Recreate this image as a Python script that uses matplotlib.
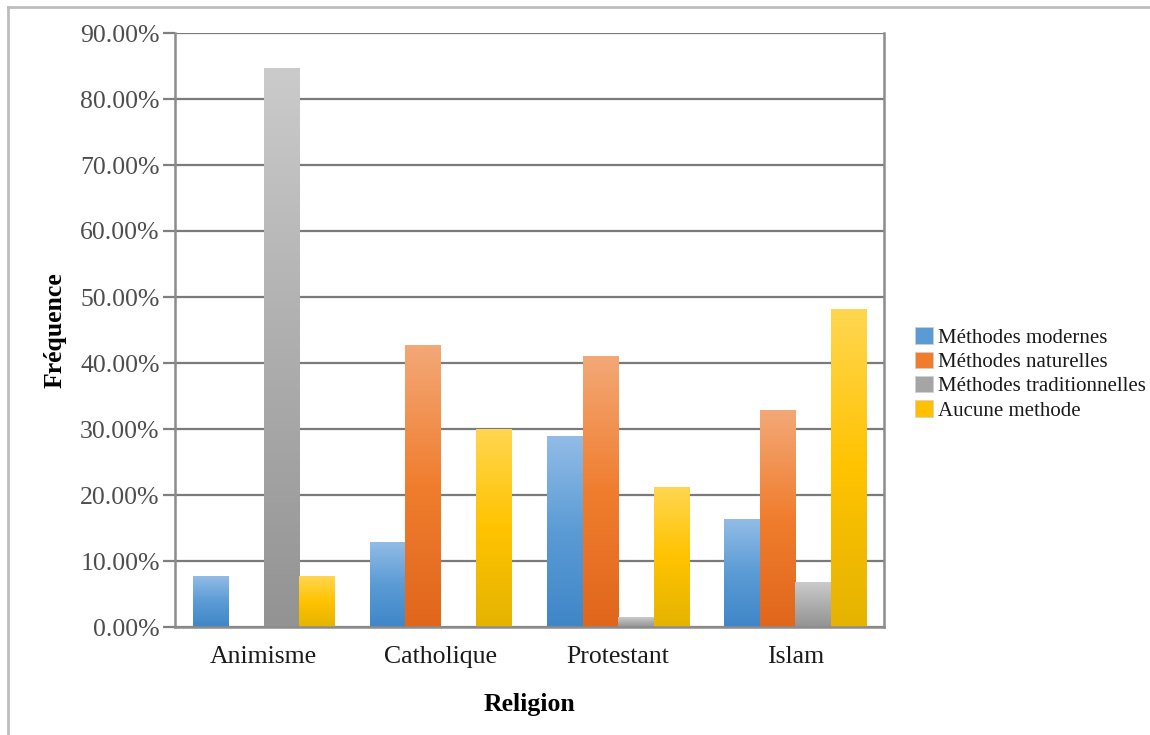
import matplotlib.pyplot as plt
import numpy as np
from matplotlib.colors import LinearSegmentedColormap
from matplotlib.lines import Line2D
from matplotlib.patches import Patch

religions = ["Animisme", "Catholique", "Protestant", "Islam"]
series = ["Méthodes modernes", "Méthodes naturelles",
          "Méthodes traditionnelles", "Aucune methode"]
modernes = [7.7, 12.8, 28.9, 16.3]
naturelles = [0.0, 42.6, 41.0, 32.8]
traditionnelles = [84.6, 0.0, 1.5, 6.7]
aucune = [7.7, 29.9, 21.2, 48.1]
yticks = [0, 10, 20, 30, 40, 50, 60, 70, 80, 90]

# (top, base, bottom) colours for the Excel style gradient fill
gradients = [
    ("#92BCE6", "#5B9BD5", "#3F86C8"),
    ("#F3A877", "#F07D2E", "#E0661C"),
    ("#CBCBCB", "#AEAEAE", "#939393"),
    ("#FFD650", "#FFC300", "#E5B300"),
]
solid = ["#5B9BD5", "#F07D2E", "#A5A5A5", "#FFC000"]

plt.rcParams['font.family'] = ['Liberation Serif', 'DejaVu Serif']

fig = plt.figure(figsize=(11.5, 7.35), dpi=100)
ax = fig.add_axes([175 / 1150, 1 - 627 / 735, (884 - 175) / 1150, (627 - 33) / 735])

values = [modernes, naturelles, traditionnelles, aucune]
x = np.arange(len(religions))
width = 0.2
grad = np.linspace(0, 1, 256).reshape(-1, 1)
for i, vals in enumerate(values):
    bars = ax.bar(x + (i - 1.5) * width, vals, width, color="none",
                  edgecolor="none", label=series[i])
    cmap = LinearSegmentedColormap.from_list("g%d" % i, gradients[i][::-1])
    for b in bars:
        h = b.get_height()
        if h <= 0:
            continue
        x0 = b.get_x()
        ax.imshow(grad, cmap=cmap, origin="lower", aspect="auto",
                  extent=[x0, x0 + b.get_width(), 0, h], zorder=3,
                  interpolation="bilinear")

ax.set_xlim(-0.5, len(religions) - 0.5)
ax.set_ylim(0, 90)
ax.set_yticks(yticks)
ax.set_yticklabels(["%.2f%%" % t for t in yticks])
ax.set_xticks(x)
ax.set_xticklabels(religions)

ax.yaxis.grid(True, color="#7A7A7A", linewidth=1.6, zorder=1)
ax.set_axisbelow(True)
for side in ["left", "right", "bottom"]:
    ax.spines[side].set_color("#8C8C8C")
    ax.spines[side].set_linewidth(1.8)
ax.spines["top"].set_visible(False)
ax.spines["bottom"].set_zorder(4)

ax.tick_params(axis="y", length=9, width=1.6, color="#7F7F7F", pad=2,
               labelsize=18.5, labelcolor="#4D4D4D")
ax.tick_params(axis="x", length=0, pad=14, labelsize=18.5, labelcolor="#1A1A1A")

ax.set_xlabel("Religion", fontsize=18.5, fontweight="bold", labelpad=18)
ax.set_ylabel("Fréquence", fontsize=18.5, fontweight="bold", labelpad=10)

handles = [Patch(facecolor=c, edgecolor="#D0D0D0", linewidth=0.5) for c in solid]
fig.legend(handles, series, loc="center left",
           bbox_to_anchor=(905 / 1150, 1 - 374 / 735), frameon=False,
           fontsize=15, handlelength=0.85, handleheight=0.85,
           handletextpad=0.25, labelspacing=0.18, borderpad=0,
           labelcolor="#1A1A1A")

# page frame visible at left and top of the screenshot
fig.add_artist(Line2D([8 / 1150, 8 / 1150], [0, 1 - 7 / 735],
                      transform=fig.transFigure, color="#BDBDBD", linewidth=2))
fig.add_artist(Line2D([8 / 1150, 1], [1 - 7 / 735, 1 - 7 / 735],
                      transform=fig.transFigure, color="#BDBDBD", linewidth=2))

fig.savefig("out.png", dpi=100)
